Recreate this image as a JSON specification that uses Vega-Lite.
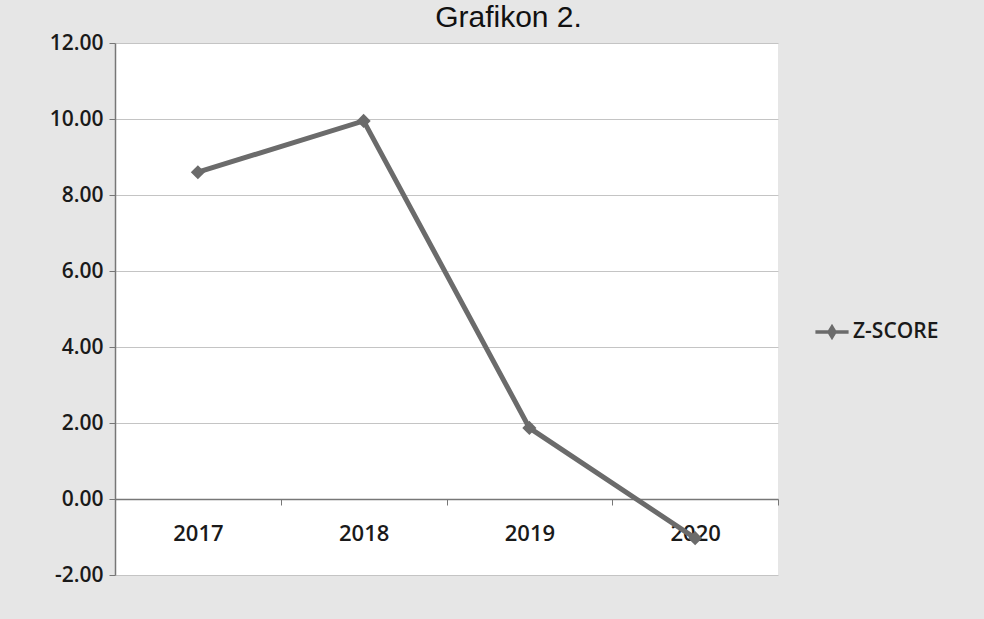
{
  "$schema": "https://vega.github.io/schema/vega-lite/v6.json",
  "width": 663,
  "height": 532,
  "autosize": {"type": "none"},
  "padding": {"left": 115, "top": 43, "right": 206, "bottom": 44},
  "background": "#e6e6e6",
  "title": {
    "text": "Grafikon 2.",
    "fontSize": 30,
    "font": "Liberation Sans",
    "fontWeight": "normal",
    "color": "#111111",
    "anchor": "middle",
    "baseline": "alphabetic",
    "dx": 62,
    "dy": 33,
    "offset": 8
  },
  "config": {
    "view": {"fill": "white", "stroke": null},
    "axis": {
      "labelFont": "Open Sans",
      "labelFontWeight": 600,
      "labelColor": "#1a1a1a"
    }
  },
  "data": {
    "values": [
      {"year": "2017", "series": "Z-SCORE", "value": 8.6},
      {"year": "2018", "series": "Z-SCORE", "value": 9.95},
      {"year": "2019", "series": "Z-SCORE", "value": 1.87},
      {"year": "2020", "series": "Z-SCORE", "value": -1.03}
    ]
  },
  "encoding": {
    "x": {
      "field": "year",
      "type": "ordinal",
      "scale": {"paddingInner": 0, "paddingOuter": 0},
      "axis": {
        "title": null,
        "labelAngle": 0,
        "labelFontSize": 22,
        "offset": -76,
        "tickBand": "extent",
        "domainColor": "#777777",
        "domainWidth": 1.5,
        "tickColor": "#777777",
        "tickSize": 6,
        "labelPadding": 18,
        "grid": false
      }
    },
    "y": {
      "field": "value",
      "type": "quantitative",
      "scale": {"domain": [-2, 12], "nice": false},
      "axis": {
        "title": null,
        "labelFontSize": 21,
        "values": [-2, 0, 2, 4, 6, 8, 10, 12],
        "format": ".2f",
        "labelExpr": "replace(datum.label, '−', '-')",
        "grid": true,
        "gridColor": "#c4c4c4",
        "gridWidth": 1.2,
        "domainColor": "#777777",
        "domainWidth": 1.5,
        "tickColor": "#777777",
        "tickSize": 6,
        "labelPadding": 6
      }
    }
  },
  "layer": [
    {
      "mark": {"type": "line", "color": "#6b6b6b", "strokeWidth": 5}
    },
    {
      "mark": {"type": "point", "shape": "diamond", "filled": true, "size": 200, "opacity": 1},
      "encoding": {
        "color": {
          "field": "series",
          "type": "nominal",
          "scale": {"range": ["#6b6b6b"]},
          "legend": {
            "title": null,
            "orient": "none",
            "legendX": 700,
            "legendY": 272,
            "symbolType": "M-1,-0.1L1,-0.1L1,0.1L-1,0.1Z M0,-0.5L0.3,0L0,0.5L-0.3,0Z",
            "symbolSize": 1100,
            "symbolFillColor": "#6b6b6b",
            "symbolStrokeWidth": 0,
            "symbolOpacity": 1,
            "labelFont": "Open Sans",
            "labelFontWeight": 600,
            "labelFontSize": 21,
            "labelColor": "#1a1a1a",
            "labelOffset": 4
          }
        }
      }
    }
  ]
}
